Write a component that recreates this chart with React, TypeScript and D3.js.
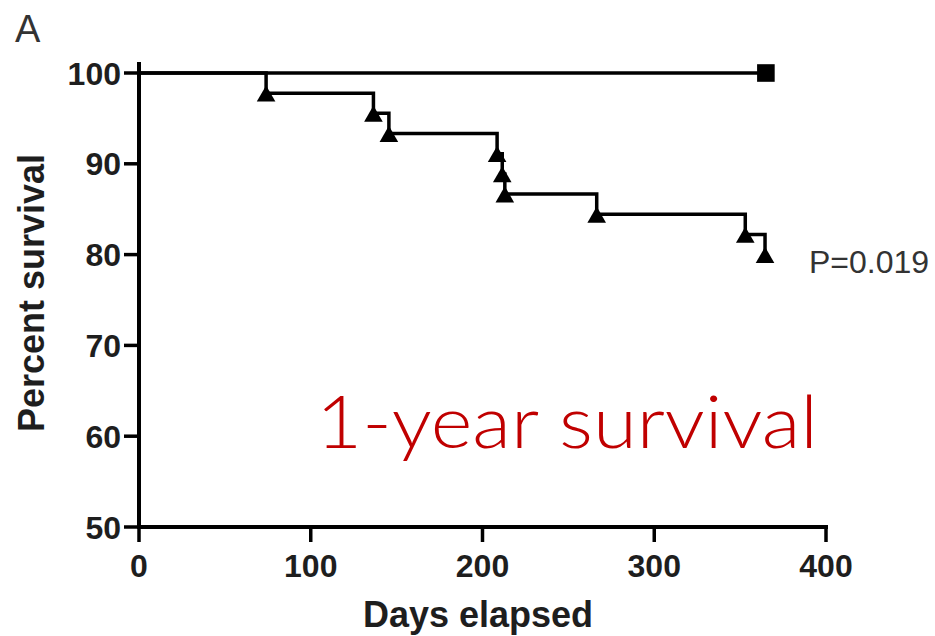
import React from "react";
import * as d3 from "d3";

// Kaplan–Meier data (days, percent surviving)
const treatedEventDays = [74, 136.5, 145.5, 208.5, 211.5, 213, 266.5, 353, 364.5];
const treatedSurvival = [97.78, 95.56, 93.33, 91.11, 88.89, 86.67, 84.44, 82.22, 80.0];
const controlDays = [0, 365];
const controlSurvival = [100, 100];

const xTicks = [0, 100, 200, 300, 400];
const yTicks = [50, 60, 70, 80, 90, 100];

const pValueLabel = "P=0.019";
const panelLabel = "A";
const overlayTitle = "1-year survival";

const W = 935;
const H = 636;

export default function App() {
  const x = d3.scaleLinear().domain([0, 400]).range([139, 826]);
  const y = d3.scaleLinear().domain([50, 100]).range([527, 73]);

  const treatedPoints: [number, number][] = [[0, 100]].concat(
    treatedEventDays.map((d, i) => [d, treatedSurvival[i]])
  ) as [number, number][];
  const controlPoints: [number, number][] = controlDays.map((d, i) => [d, controlSurvival[i]]);

  const stepLine = d3
    .line<[number, number]>()
    .x((d) => x(d[0]))
    .y((d) => y(d[1]))
    .curve(d3.curveStepAfter);

  const tri = d3.symbol().type(d3.symbolTriangle).size(150)();
  const sq = d3.symbol().type(d3.symbolSquare).size(310)();

  const axisFont = "Liberation Sans, Arial, Helvetica, sans-serif";
  const ink = "#1e1e1e";

  return (
    <svg
      width={W}
      height={H}
      style={{ position: "absolute", left: 0, top: 0, background: "#fff" }}
    >
      {/* panel letter */}
      <text x={15} y={42} fontFamily={axisFont} fontSize={38} fill="#333">
        {panelLabel}
      </text>

      {/* y axis */}
      <line x1={x(0)} x2={x(0)} y1={y(100) - 11} y2={y(50) + 2} stroke="#000" strokeWidth={4} />
      {yTicks.map((t) => (
        <g key={"y" + t}>
          <line x1={x(0) - 15} x2={x(0)} y1={y(t)} y2={y(t)} stroke="#000" strokeWidth={3.5} />
          <text
            x={x(0) - 18}
            y={y(t)}
            dy="0.36em"
            textAnchor="end"
            fontFamily={axisFont}
            fontWeight="bold"
            fontSize={32}
            fill={ink}
          >
            {t}
          </text>
        </g>
      ))}

      {/* x axis */}
      <line x1={x(0) - 2} x2={x(400) + 2} y1={y(50)} y2={y(50)} stroke="#000" strokeWidth={4} />
      {xTicks.map((t) => (
        <g key={"x" + t}>
          <line x1={x(t)} x2={x(t)} y1={y(50)} y2={y(50) + 15} stroke="#000" strokeWidth={3.5} />
          <text
            x={x(t)}
            y={y(50) + 50}
            textAnchor="middle"
            fontFamily={axisFont}
            fontWeight="bold"
            fontSize={32}
            fill={ink}
          >
            {t}
          </text>
        </g>
      ))}

      {/* axis titles */}
      <text
        x={478}
        y={627}
        textAnchor="middle"
        fontFamily={axisFont}
        fontWeight="bold"
        fontSize={36}
        fill={ink}
      >
        Days elapsed
      </text>
      <text
        transform={`translate(44,${293}) rotate(-90)`}
        textAnchor="middle"
        fontFamily={axisFont}
        fontWeight="bold"
        fontSize={36}
        fill={ink}
      >
        Percent survival
      </text>

      {/* control group: no deaths */}
      <path d={stepLine(controlPoints) || ""} fill="none" stroke="#000" strokeWidth={3.5} />
      <path
        d={sq}
        transform={`translate(${x(controlDays[1])},${y(controlSurvival[1])})`}
        fill="#000"
      />

      {/* treated group */}
      <path d={stepLine(treatedPoints) || ""} fill="none" stroke="#000" strokeWidth={3.5} />
      {treatedEventDays.map((d, i) => (
        <path
          key={"t" + i}
          d={tri}
          transform={`translate(${x(d)},${y(treatedSurvival[i]) + 3})`}
          fill="#000"
        />
      ))}

      <text x={809} y={273} fontFamily={axisFont} fontSize={32} fill="#333">
        {pValueLabel}
      </text>

      <text
        x={316}
        y={448}
        fontFamily="Lato, 'Open Sans', 'DejaVu Sans', sans-serif"
        fontWeight={300}
        fontSize={72}
        fill="#c00000"
        textLength={502}
        lengthAdjust="spacingAndGlyphs"
      >
        {overlayTitle}
      </text>
    </svg>
  );
}
